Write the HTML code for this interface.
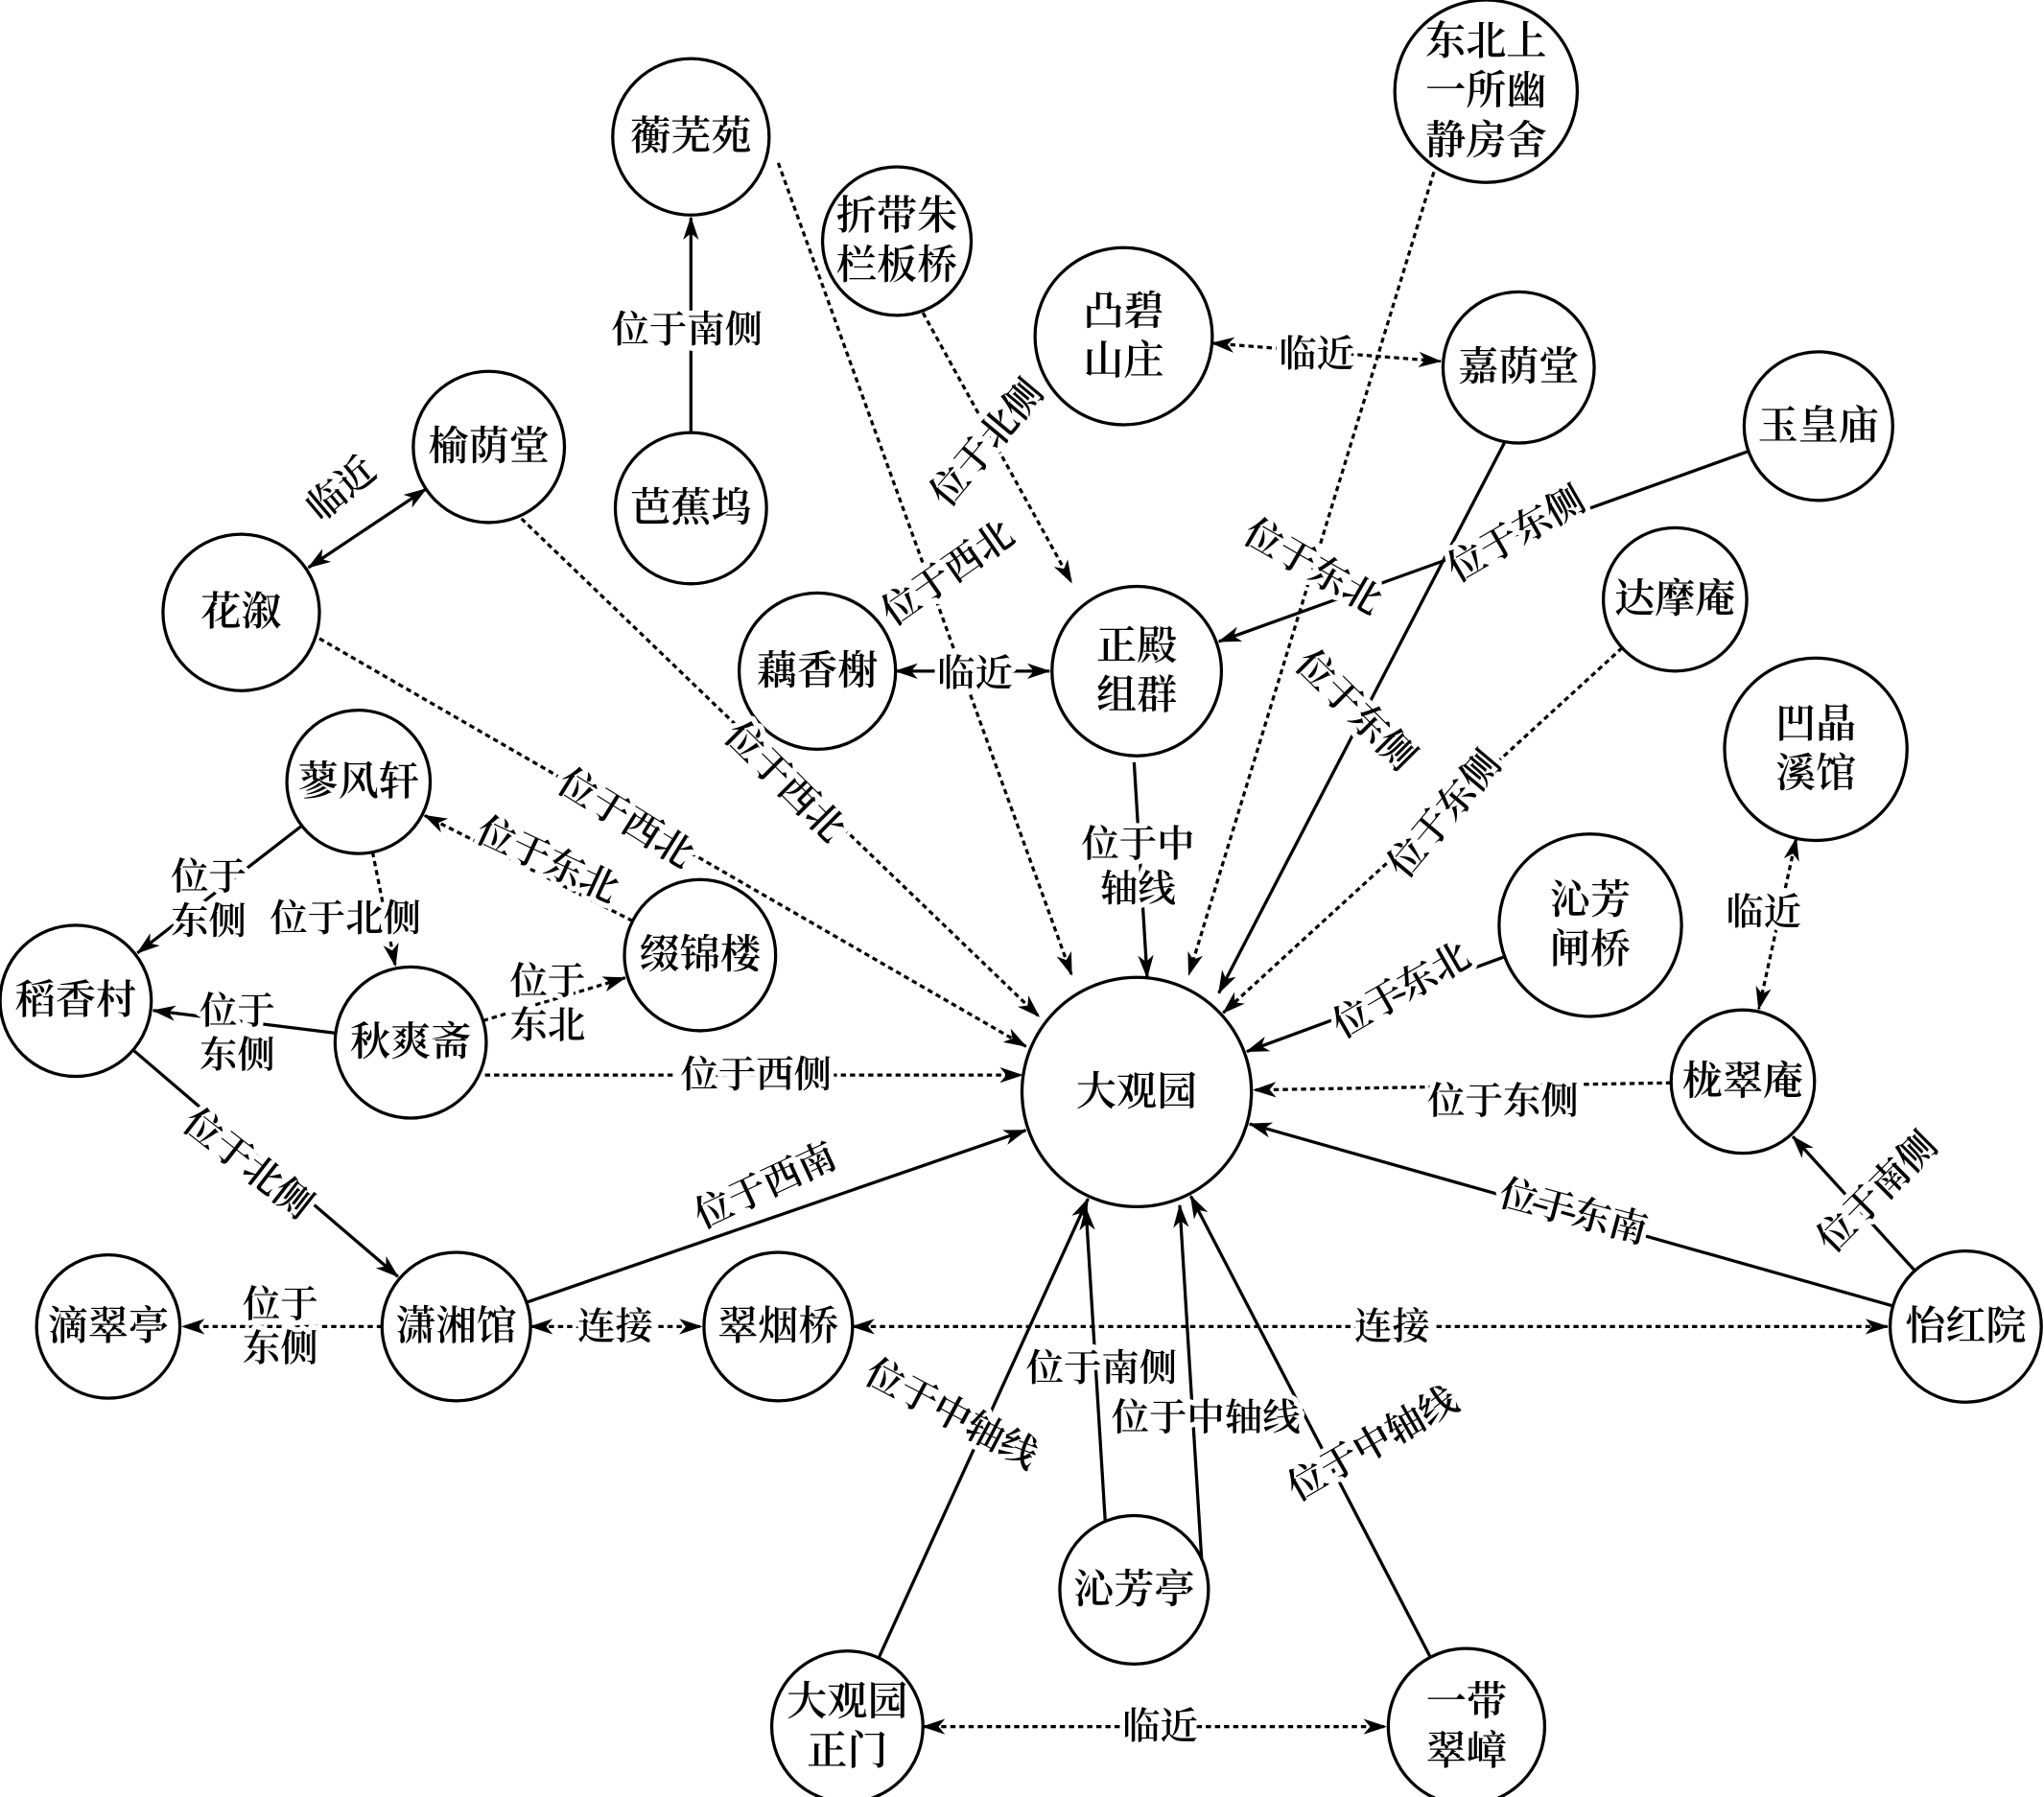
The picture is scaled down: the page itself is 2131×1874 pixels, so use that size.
<!DOCTYPE html>
<html><head><meta charset="utf-8">
<style>
html,body{margin:0;padding:0;background:#fff;}
svg{display:block;}
text{font-family:"Liberation Serif","Noto Serif CJK SC","Noto Sans CJK SC",serif;fill:#000;}
</style></head>
<body>
<svg id="s" xmlns="http://www.w3.org/2000/svg" width="2131" height="1874" viewBox="0 0 1568 1379">
<defs>
<marker id="a" viewBox="0 0 18 12" refX="17" refY="6" markerWidth="18" markerHeight="12" markerUnits="userSpaceOnUse" orient="auto-start-reverse">
<path d="M0,0 L18,6 L0,12 L5,6 z" fill="#000"/>
</marker>
</defs>
<g id="e"></g><g id="n"></g><g id="l"></g>
</svg>
<script>
var N={
hw:[530,105,60,["蘅芜苑"]],
db:[1140,70,70,["东北上","一所幽","静房舍"]],
zd:[688,185,57,["折带朱","栏板桥"]],
tb:[862,258,68,["凸碧","山庄"]],
jy:[1165,282,58,["嘉荫堂"]],
yh:[1395,327,57,["玉皇庙"]],
yy:[375,343,58,["榆荫堂"]],
bj:[530,390,58,["芭蕉坞"]],
hx:[185,470,60,["花溆"]],
dm:[1285,460,55,["达摩庵"]],
ox:[627,515,60,["藕香榭"]],
zq:[872,515,65,["正殿","组群"]],
aj:[1393,575,70,["凹晶","溪馆"]],
lf:[275,600,55,["蓼风轩"]],
qz:[1220,710,70,["沁芳","闸桥"]],
zj:[537,733,58,["缀锦楼"]],
dx:[58,768,58,["稻香村"]],
qs:[315,800,58,["秋爽斋"]],
dg:[872,838,88,["大观园"]],
lc:[1337,830,55,["栊翠庵"]],
dc:[83,1018,55,["滴翠亭"]],
xx:[350,1018,57,["潇湘馆"]],
cy:[597,1018,57,["翠烟桥"]],
yhy:[1508,1018,58,["怡红院"]],
qt:[870,1220,57,["沁芳亭"]],
zm:[650,1325,58,["大观园","正门"]],
yd:[1125,1325,60,["一带","翠嶂"]]
};
var E=[
["bj","hw","s",0,"位于南侧",527,253,0],
["hw","dg","d",0,"位于西北",727,440,-35,[597,125],[822,748]],
["db","dg","d",0,"位于东北",1007,435,30,[1100,132],[912,748]],
["zd","zq","d",0,"位于北侧",757,340,-50,[708,240],[822,447]],
["tb","jy","d",1,"临近",1010,272,0],
["yh","zq","s",0,"位于东侧",1163,410,-30],
["yy","hx","s",1,"临近",262,375,-40],
["yy","dg","d",0,"位于西北",602,600,45,[400,398],[797,780]],
["hx","dg","d",0,"位于西北",480,628,32,[245,490],[787,803]],
["jy","dg","s",0,"位于东侧",1040,545,45,[1155,338],[935,762]],
["dm","dg","d",0,"位于东侧",1108,625,-50],
["ox","zq","s",1,"临近",748,517,0],
["zq","dg","s",0,"位于中\n轴线",873,665,0,[870,585],[880,750]],
["aj","lc","d",1,"临近",1353,700,0],
["lf","dx","s",0,"位于\n东侧",160,690,0],
["lf","qs","d",0,"位于北侧",265,705,0],
["zj","lf","d",0,"位于东北",420,660,25],
["qz","dg","s",0,"位于东北",1075,760,-30],
["qs","zj","d",0,"位于\n东北",420,770,0],
["qs","dx","s",0,"位于\n东侧",182,793,0],
["qs","dg","d",0,"位于西侧",580,825,0,[372,825],[784,825]],
["lc","dg","d",0,"位于东侧",1153,845,0],
["dx","xx","s",0,"位于北侧",190,893,38],
["xx","dg","s",0,"位于西南",587,910,-25],
["yhy","dg","s",0,"位于东南",1207,930,15],
["yhy","lc","s",0,"位于南侧",1440,915,-45],
["xx","dc","d",0,"位于\n东侧",215,1018,0],
["xx","cy","d",1,"连接",472,1018,0],
["cy","yhy","d",1,"连接",1068,1018,0],
["zm","dg","s",0,"位于中轴线",730,1085,28],
["qt","dg","s",0,"位于南侧",845,1050,0,[848,1170],[833,927]],
["qt","dg","s",0,"位于中轴线",925,1088,0,[922,1200],[905,925]],
["yd","dg","s",0,"位于中轴线",1053,1108,-30],
["zm","yd","d",1,"临近",890,1325,0]
];
var ns="http://www.w3.org/2000/svg";
function el(t,a,p){var e=document.createElementNS(ns,t);for(var k in a)e.setAttribute(k,a[k]);p.appendChild(e);return e;}
var ge=document.getElementById("e"),gn=document.getElementById("n"),gl=document.getElementById("l");
E.forEach(function(d){
 var A=N[d[0]],B=N[d[1]],x1,y1,x2,y2;
 if(d[8]){x1=d[8][0];y1=d[8][1];x2=d[9][0];y2=d[9][1];}
 else{var dx=B[0]-A[0],dy=B[1]-A[1],L=Math.sqrt(dx*dx+dy*dy),ux=dx/L,uy=dy/L;
 x1=A[0]+ux*A[2];y1=A[1]+uy*A[2];x2=B[0]-ux*(B[2]+2);y2=B[1]-uy*(B[2]+2);}
 var a={x1:x1,y1:y1,x2:x2,y2:y2,stroke:"#000","stroke-width":2.4,"marker-end":"url(#a)"};
 if(d[2]=="d")a["stroke-dasharray"]="4,3";
 if(d[3])a["marker-start"]="url(#a)";
 el("line",a,ge);
 var lines=d[4].split("\n"),g=el("g",{transform:"translate("+d[5]+","+d[6]+") rotate("+d[7]+")"},gl);
 lines.forEach(function(t,i){
  var y=(i-(lines.length-1)/2)*34;
  var tx=el("text",{x:0,y:y,"font-size":29,"font-weight":"600","text-anchor":"middle","dominant-baseline":"central",stroke:"#fff","stroke-width":8,"paint-order":"stroke","stroke-linejoin":"round"},g);
  tx.textContent=t;
 });
});
for(var k in N){var c=N[k];
 el("circle",{cx:c[0],cy:c[1],r:c[2],fill:"#fff",stroke:"#000","stroke-width":2.4},gn);
 var ls=c[3];
 ls.forEach(function(t,i){var y=c[1]+(i-(ls.length-1)/2)*38;
  var tx=el("text",{x:c[0],y:y,"font-size":31,"font-weight":"600","text-anchor":"middle","dominant-baseline":"central"},gn);tx.textContent=t;});
}
</script>
</body></html>
